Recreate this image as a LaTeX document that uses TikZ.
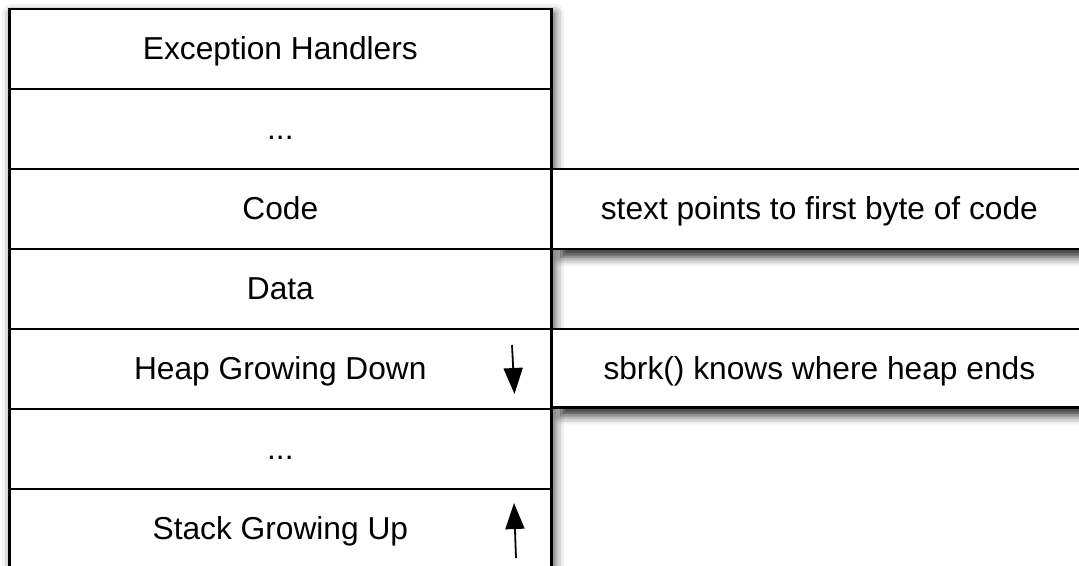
\documentclass[tikz,border=0pt]{standalone}
\usepackage{fontspec}
\setmainfont{Liberation Sans}
\usetikzlibrary{shadows.blur,arrows.meta}

\tikzset{
  memrow/.style={draw, line width=2.7pt, fill=white, minimum width=542pt,
    minimum height=80pt, inner sep=0pt, anchor=north west,
    text height=22pt, text depth=0pt},
  notebox/.style={draw, line width=2.7pt, fill=white, minimum width=536pt,
    minimum height=80pt, inner sep=0pt, anchor=north west,
    text height=22pt, text depth=0pt,
    blur shadow={shadow xshift=10pt, shadow yshift=-8pt,
      shadow blur radius=9pt, shadow opacity=85}},
  colshadow/.style={fill=white, minimum width=542pt, minimum height=560pt,
    inner sep=0pt, anchor=north west,
    blur shadow={shadow xshift=4pt, shadow yshift=-6pt,
      shadow blur radius=10pt, shadow opacity=80}},
  growarrow/.style={line width=1.8pt, -{Triangle[length=26pt,width=19pt]}}
}

\begin{document}
\begin{tikzpicture}[x=1pt, y=-1pt, font=\fontsize{31.7pt}{38pt}\selectfont]
\useasboundingbox (0,0) rectangle (1079,565);
\clip (0,0) rectangle (1079,565);

% memory layout column
\node[colshadow] (column) at (8,7.5) {};
\node[memrow] (handlers) at (8,7.5)   {Exception Handlers};
\node[memrow] (gap1)     at (8,87.5)  {...};
\node[memrow] (code)     at (8,167.5) {Code};
\node[memrow] (data)     at (8,247.5) {Data};
\node[memrow] (heap)     at (8,327.5) {Heap Growing Down};
\node[memrow] (gap2)     at (8,407.5) {...};
\node[memrow] (stack)    at (8,487.5) {Stack Growing Up};

% growth directions
\coordinate (heaptop) at (512,345);
\coordinate (heapend) at (514.5,394);
\coordinate (stackbase) at (516,558);
\coordinate (stacktop) at (514,503);
\draw[growarrow] (heaptop) -- (heapend);
\draw[growarrow] (stackbase) -- (stacktop);

% side notes
\node[notebox] (stext) at (550,167.5) {stext points to first byte of code};
\node[notebox, minimum height=78.5pt] (sbrk) at (550,327.5) {sbrk() knows where heap ends};
\end{tikzpicture}
\end{document}
